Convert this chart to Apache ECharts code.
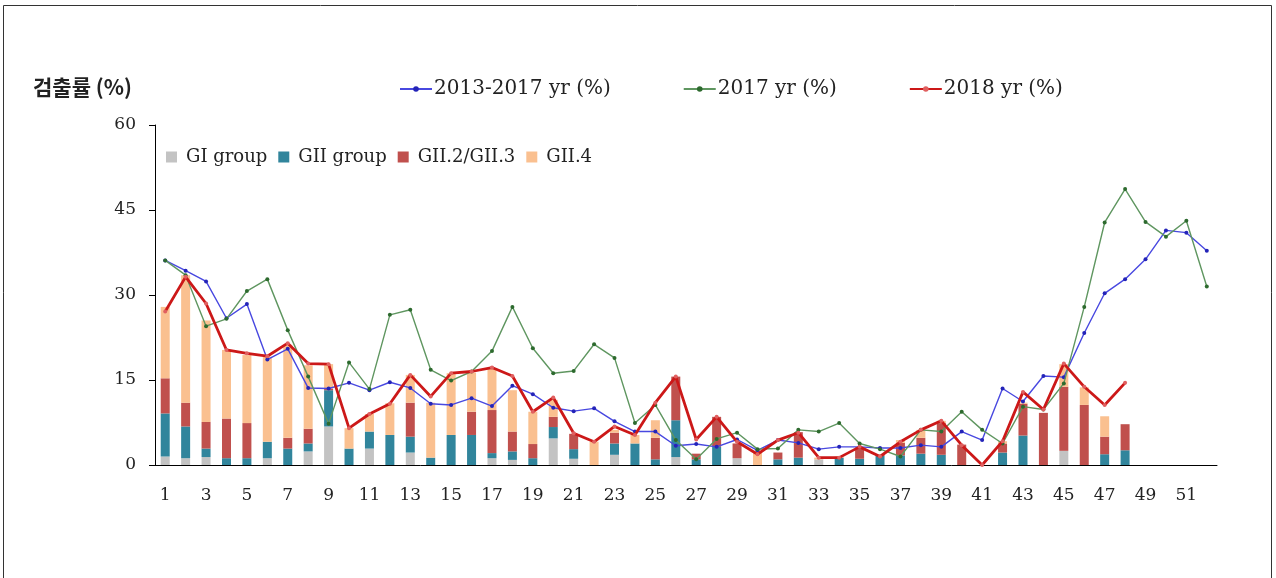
<!DOCTYPE html>
<html>
<head>
<meta charset="utf-8">
<script src="https://cdn.jsdelivr.net/npm/echarts@6/dist/echarts.min.js"></script>
<style>
html,body{margin:0;padding:0;background:#fff;}
#chart{width:1276px;height:578px;}
</style>
</head>
<body>
<div id="chart"></div>
<script>
// ---- data ----
const weeks = Array.from({length: 52}, (_, i) => String(i + 1));

const giGroup = [1.5,1.2,1.4,0,0,1.2,0,2.4,6.8,0, 2.9,0,2.2,0,0,0,1.2,0.9,0,4.7, 1.1,0,1.8,0,0,1.4,0,0,1.2,0, 0,0,1.0,0,0,0,0,0,0,0, 0,0,0,0,2.5,0,0,0];
const giiGroup = [7.6,5.6,1.5,1.2,1.2,2.9,2.9,1.4,6.4,2.9, 3.0,5.3,2.8,1.3,5.3,5.3,0.9,1.5,1.2,2.0, 1.7,0,2.0,3.8,1.0,6.5,1.0,3.2,0,0, 1.0,1.3,0,1.3,1.1,1.6,1.7,2.0,1.8,0, 0,2.2,5.2,0,0,0,1.9,2.6];
const gii23 = [6.2,4.2,4.7,7.0,6.2,0,1.9,2.6,0.3,0, 0,0,6.0,0,0,4.1,7.6,3.5,2.5,1.8, 2.7,0,1.9,0,3.8,7.7,1.0,5.3,2.6,0, 1.2,4.5,0,0,2.0,0.2,2.2,2.8,5.6,3.6, 0,1.6,5.6,9.2,11.3,10.6,3.1,4.6];
const gii4 = [12.6,22.5,17.9,12.1,12.0,15.0,16.4,11.2,4.3,3.6, 3.1,5.6,4.9,9.7,10.9,6.9,7.4,7.3,5.7,3.0, 0,4.1,0.5,1.5,3.1,0,0,0,0,2.5, 0,0,0.3,0.2,0,0,0.5,1.4,0.4,0, 0,0.4,0.2,0,4.0,3.1,3.6,0];

const avg2013_2017 = [36.1,34.3,32.4,25.9,28.4,18.6,20.5,13.6,13.5,14.5, 13.2,14.6,13.6,10.8,10.6,11.8,10.4,14.0,12.5,10.1, 9.5,10.0,7.7,5.9,5.9,3.4,3.7,3.2,4.5,2.6, 4.4,3.9,2.8,3.2,3.2,3.0,3.0,3.5,3.2,5.9, 4.4,13.5,11.2,15.7,15.5,23.3,30.3,32.8,36.3,41.4, 41.0,37.8];
const yr2017 = [36.1,33.5,24.5,25.8,30.7,32.8,23.8,15.6,7.3,18.1, 13.4,26.5,27.4,16.8,14.9,16.5,20.1,27.9,20.6,16.2, 16.6,21.3,18.9,7.4,10.6,4.4,1.0,4.6,5.7,2.8, 2.9,6.2,5.9,7.4,3.8,2.8,1.5,6.2,5.9,9.4, 6.2,3.8,10.3,9.8,14.4,27.9,42.8,48.7,42.9,40.3, 43.1,31.5];
const yr2018 = [27.1,33.2,28.5,20.3,19.7,19.2,21.5,17.9,17.8,6.5, 9.0,10.8,15.9,12.1,16.2,16.5,17.2,15.7,9.4,11.9, 5.6,4.1,6.8,5.3,11.0,15.6,4.5,8.5,4.1,1.9, 4.4,5.7,1.3,1.3,3.2,1.5,4.1,6.2,7.8,3.5, 0,4.2,12.9,9.8,17.9,13.8,10.6,14.5];

const yTicks = {min: 0, max: 60, interval: 15};
const barNames = ['GI group', 'GII group', 'GII.2/GII.3', 'GII.4'];
const lineNames = ['2013-2017 yr (%)', '2017 yr (%)', '2018 yr (%)'];

// ---- chart ----
const serif = '"DejaVu Serif", "Liberation Serif", serif';
const chart = echarts.init(document.getElementById('chart'), null, {renderer: 'canvas'});

function barSeries(name, data, color) {
  return {
    name, type: 'bar', stack: 'total', data, barWidth: 9,
    itemStyle: {color}, emphasis: {disabled: true}
  };
}
function lineSeries(name, data, color, width, symColor, z) {
  return {
    name, type: 'line', data, symbol: 'circle', symbolSize: 4, z,
    lineStyle: {color, width}, itemStyle: {color: symColor},
    emphasis: {disabled: true}
  };
}

chart.setOption({
  animation: false,
  backgroundColor: '#fff',
  graphic: [{
    type: 'rect', shape: {x: 3.5, y: 5.5, width: 1268, height: 600},
    style: {fill: 'none', stroke: '#333', lineWidth: 1}, silent: true
  }],
  title: {
    text: '검출률 (%)', left: 28, top: 72,
    textStyle: {fontFamily: '"Noto Sans CJK KR", sans-serif', fontSize: 21, fontWeight: 'bold', color: '#222'}
  },
  legend: [{
    data: lineNames, left: 394, top: 74, itemWidth: 32, itemHeight: 7, itemGap: 72,
    textStyle: {fontFamily: serif, fontSize: 20, color: '#222', padding: [0, 0, 0, -3]}
  }, {
    data: barNames, left: 161, top: 143, icon: 'rect', itemWidth: 11, itemHeight: 11, itemGap: 11,
    textStyle: {fontFamily: serif, fontSize: 18, color: '#222', padding: [0, 0, 0, 4]}
  }],
  grid: {left: 155, right: 59, top: 125, bottom: 113, containLabel: false},
  xAxis: {
    type: 'category', data: weeks, boundaryGap: true,
    axisLine: {lineStyle: {color: '#000', width: 1}},
    axisTick: {show: false},
    axisLabel: {interval: 1, fontFamily: serif, fontSize: 17, color: '#222', margin: 22}
  },
  yAxis: {
    type: 'value', min: yTicks.min, max: yTicks.max, interval: yTicks.interval,
    axisLine: {show: true, lineStyle: {color: '#000', width: 1}},
    axisTick: {show: true, length: 6, lineStyle: {color: '#000'}},
    splitLine: {show: false},
    axisLabel: {fontFamily: serif, fontSize: 17, color: '#222', margin: 19}
  },
  series: [
    barSeries(barNames[0], giGroup, '#c3c3c3'),
    barSeries(barNames[1], giiGroup, '#31859c'),
    barSeries(barNames[2], gii23, '#c0504d'),
    barSeries(barNames[3], gii4, '#fac090'),
    lineSeries(lineNames[0], avg2013_2017, '#4848e0', 1.4, '#2424b8', 5),
    lineSeries(lineNames[1], yr2017, '#5f9660', 1.4, '#2d6a2e', 6),
    lineSeries(lineNames[2], yr2018, '#cc1818', 2.8, '#e06060', 7)
  ]
});
</script>
</body>
</html>
